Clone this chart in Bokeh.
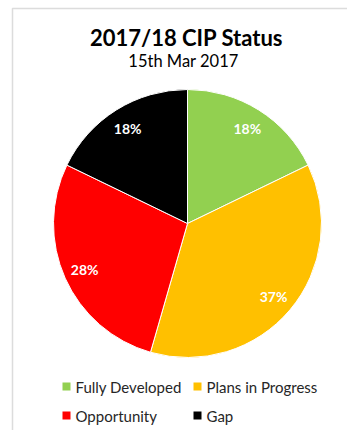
import math
from bokeh.plotting import figure
from bokeh.models import BoxAnnotation, ColumnDataSource
from bokeh.core.properties import value
from bokeh.embed import file_html
from bokeh.resources import INLINE

title = "2017/18 CIP Status"
subtitle = "15th Mar 2017"
categories = ["Fully Developed", "Plans in Progress", "Opportunity", "Gap"]
shares = [18, 37, 28, 18]
colors = ["#92D050", "#FFC000", "#FF0000", "#000000"]

W, H = 347, 430
FONT = "Lato"
cx, cy, R = 187, H - 223, 134

total = float(sum(shares))
starts, ends, lx, ly, labels = [], [], [], [], []
cum = 0.0
for s in shares:
    a0 = math.pi / 2 - 2 * math.pi * cum / total
    cum += s
    a1 = math.pi / 2 - 2 * math.pi * cum / total
    starts.append(a0)
    ends.append(a1)
    mid = (a0 + a1) / 2
    lx.append(cx + 0.84 * R * math.cos(mid))
    ly.append(cy + 0.84 * R * math.sin(mid))
    labels.append(f"{round(s / total * 100)}%")

src = ColumnDataSource(dict(start=starts, end=ends, color=colors, lx=lx, ly=ly, label=labels, cat=categories))

p = figure(width=W, height=H, x_range=(0, W), y_range=(0, H), output_backend="svg",
           toolbar_location=None, min_border=0, outline_line_color=None)
p.axis.visible = False
p.grid.visible = False
p.background_fill_color = "white"
p.border_fill_color = "white"

p.add_layout(BoxAnnotation(left=12, right=W + 50, bottom=-50, top=H - 8,
                           fill_alpha=0, line_color="#8c8c8c", line_width=1.5))

p.wedge(x=cx, y=cy, radius=R, start_angle="start", end_angle="end", direction="clock",
        fill_color="color", line_color="white", line_width=1, source=src)

p.text(x="lx", y="ly", text="label", source=src, text_color="white", text_font=value(FONT),
       text_font_style="bold", text_font_size="14px", text_align="center", text_baseline="middle")

p.text(x=[186], y=[H - 37], text=[title], text_font=value(FONT), text_font_style="bold",
       text_font_size="22px", text_align="center", text_baseline="middle", text_color="#000000")
p.text(x=[183], y=[H - 60], text=[subtitle], text_font=value(FONT),
       text_font_size="16.5px", text_align="center", text_baseline="middle", text_color="#000000")

# legend
leg_x = [66, 197, 66, 197]
leg_y = [H - 386, H - 386, H - 415, H - 415]
lsrc = ColumnDataSource(dict(x=leg_x, y=leg_y, tx=[x + 9 for x in leg_x], color=colors, cat=categories))
p.scatter(x="x", y="y", marker="square", size=8, fill_color="color", line_color=None, source=lsrc)
p.text(x="tx", y="y", text="cat", source=lsrc, text_font=value(FONT), text_font_size="15px",
       text_align="left", text_baseline="middle", text_color="#262626")

open("out.html", "w").write(file_html(p, INLINE))
